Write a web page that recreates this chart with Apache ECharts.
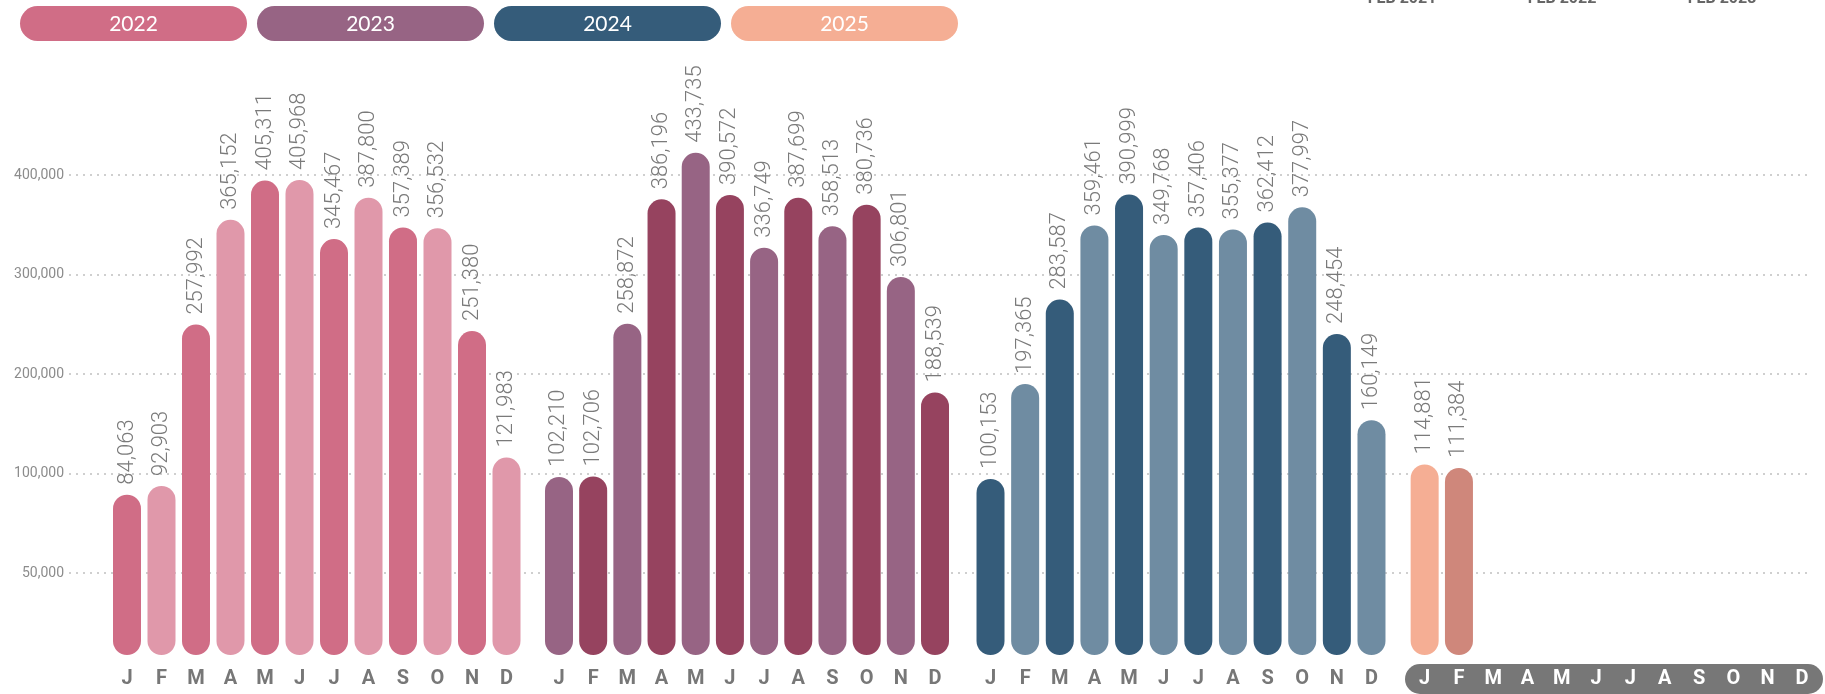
<!DOCTYPE html>
<html>
<head>
<meta charset="utf-8">
<script src="https://cdn.jsdelivr.net/npm/echarts@6/dist/echarts.min.js"></script>
<style>
  html, body { margin: 0; padding: 0; background: #fff; }
  #chart { width: 1825px; height: 694px; }
</style>
</head>
<body>
<div id="chart"></div>
<script>
// data
const years = ['2022', '2023', '2024', '2025']
const months = ['J', 'F', 'M', 'A', 'M', 'J', 'J', 'A', 'S', 'O', 'N', 'D']
const sales2022 = [84063, 92903, 257992, 365152, 405311, 405968, 345467, 387800, 357389, 356532, 251380, 121983]
const sales2023 = [102210, 102706, 258872, 386196, 433735, 390572, 336749, 387699, 358513, 380736, 306801, 188539]
const sales2024 = [100153, 197365, 283587, 359461, 390999, 349768, 357406, 355377, 362412, 377997, 248454, 160149]
const sales2025 = [114881, 111384]
const tickLabels = ['50,000', '100,000', '200,000', '300,000', '400,000']
const topDates = ['FEB 2021', 'FEB 2022', 'FEB 2023']

const salesByYear = [sales2022, sales2023, sales2024, sales2025]

// colours
const yearColors = ['#D06D86', '#976484', '#355C7A', '#F5AE94']
const barColors = [
  ['#D06D86', '#E098AA'],
  ['#976484', '#96435F'],
  ['#355C7A', '#6F8CA2'],
  ['#F5AE94', '#CF877B']
]

// one grid per year, placed by hand like the original
const yearGrids = [
  { left: 109.75, width: 414 },
  { left: 541.9, width: 410.2 },
  { left: 973.2, width: 415.6 },
  { left: 1407.5, width: 411.6 }
]
const barTop = 146.7
const barBottom = 39

const fmt = v => String(v).replace(/\B(?=(\d{3})+(?!\d))/g, ',')

const grids = [{ left: 69, right: 15, top: 175, bottom: 121 }]
const xAxes = [{ type: 'value', show: false, gridIndex: 0 }]
const yAxes = [{
  type: 'category',
  gridIndex: 0,
  data: tickLabels,
  boundaryGap: false,
  axisLine: { show: false },
  axisTick: { show: false },
  axisLabel: { color: '#8c8c8c', fontSize: 14, fontFamily: 'Roboto', margin: 5 },
  splitLine: { show: true, lineStyle: { color: '#cfcfcf', width: 2, type: [2, 5] } }
}]
const series = []

years.forEach((y, i) => {
  grids.push({ left: yearGrids[i].left, width: yearGrids[i].width, top: barTop, bottom: barBottom })
  xAxes.push({
    type: 'category',
    gridIndex: i + 1,
    data: months,
    axisLine: { show: false, onZero: false },
    axisTick: { show: false },
    axisLabel: {
      interval: 0,
      margin: 14,
      color: i === 3 ? '#fff' : '#777',
      fontSize: 20,
      fontWeight: 'bold',
      fontFamily: 'Roboto'
    }
  })
  yAxes.push({ type: 'value', gridIndex: i + 1, min: -80000, max: 440000, startValue: -80000, show: false })
  series.push({
    name: y,
    type: 'bar',
    xAxisIndex: i + 1,
    yAxisIndex: i + 1,
    barWidth: 28,
    data: salesByYear[i],
    itemStyle: {
      borderRadius: 14,
      color: p => barColors[i][p.dataIndex % 2]
    },
    label: {
      show: true,
      position: 'top',
      rotate: 90,
      align: 'left',
      verticalAlign: 'middle',
      distance: 10,
      color: '#7a7a7a',
      fontSize: 22,
      fontWeight: 300,
      fontFamily: 'Roboto',
      formatter: p => fmt(p.value)
    }
  })
})

// legend pills and header text
const graphics = []
years.forEach((y, i) => {
  graphics.push({
    type: 'group',
    left: 20 + i * 237,
    top: 6,
    children: [
      { type: 'rect', shape: { x: 0, y: 0, width: 227, height: 35, r: 17.5 }, style: { fill: yearColors[i] } },
      {
        type: 'text', x: 113.5, y: 18,
        style: { text: y, fill: '#fff', fontSize: 21, fontFamily: 'Lato', align: 'center', verticalAlign: 'middle' }
      }
    ]
  })
})
topDates.forEach((t, i) => {
  graphics.push({
    type: 'text',
    x: 1402 + i * 160,
    y: 7,
    style: { text: t, fill: '#666', fontSize: 16, fontWeight: 'bold', fontFamily: 'Roboto', align: 'center', verticalAlign: 'bottom' }
  })
})
// dark band behind the 2025 month letters
graphics.push({
  type: 'rect',
  z: -10,
  shape: { x: 1405, y: 664, width: 418, height: 30, r: 15 },
  style: { fill: '#777' }
})

const chart = echarts.init(document.getElementById('chart'))
chart.setOption({
  animation: false,
  grid: grids,
  xAxis: xAxes,
  yAxis: yAxes,
  series: series,
  graphic: graphics
})
</script>
</body>
</html>
